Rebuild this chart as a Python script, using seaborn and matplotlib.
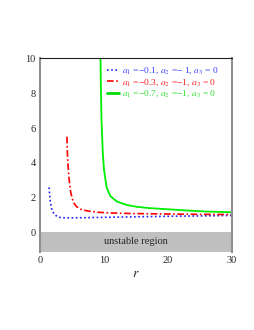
import numpy as np
import pandas as pd
import matplotlib
matplotlib.use("Agg")
import matplotlib.pyplot as plt
import seaborn as sns

# curves
r_blue = [1.4, 1.5, 1.6, 1.8, 2.0, 2.3, 2.7, 3.2, 4, 5, 7, 10, 15, 20, 25, 30]
y_blue = [2.6, 2.2, 1.8, 1.4, 1.2, 1.05, 0.93, 0.88, 0.86, 0.86, 0.87, 0.89, 0.92, 0.95, 0.97, 1.0]

r_red = [4.2, 4.3, 4.5, 4.8, 5.2, 5.7, 6.5, 7.5, 9, 11, 14, 18, 22, 26, 30]
y_red = [5.5, 4.3, 3.2, 2.3, 1.75, 1.5, 1.33, 1.25, 1.18, 1.14, 1.11, 1.09, 1.07, 1.06, 1.05]

r_green = [9.45, 9.5, 9.6, 9.8, 10.0, 10.4, 11, 12, 13.5, 15, 17, 20, 23, 26, 30]
y_green = [10.0, 8.5, 6.5, 4.6, 3.6, 2.6, 2.1, 1.8, 1.6, 1.5, 1.42, 1.35, 1.28, 1.22, 1.18]

labels = [r"$a_1$ =−0.1, $a_2$ =− 1, $a_3$ = 0",
          r"$a_1$ =−0.3, $a_2$ =−1, $a_3$ = 0",
          r"$a_1$ =−0.7, $a_2$ =−1, $a_3$ = 0"]

sns.set_style("white")
plt.rcParams['font.family'] = ['Liberation Serif', 'DejaVu Serif']
plt.rcParams['mathtext.fontset'] = 'stix'

fig = plt.figure(figsize=(2.55, 3.3), dpi=100)
ax = fig.add_axes([0.157, 0.236, 0.753, 0.588])

ax.axhspan(-1.1, 0.05, color="#c0c0c0", lw=0)
ax.text(15, -0.5, "unstable region", ha="center", va="center", fontsize=7.5)

sns.lineplot(x=r_blue, y=y_blue, ax=ax, color="#2020ff", lw=1.2, sort=False,
             linestyle=(0, (1, 1.5)), label=labels[0])
sns.lineplot(x=r_red, y=y_red, ax=ax, color="#ff0000", lw=1.2, sort=False,
             linestyle=(0, (4, 1.5, 1, 1.5)), label=labels[1])
sns.lineplot(x=r_green, y=y_green, ax=ax, color="#00ee00", lw=1.3, sort=False,
             label=labels[2])

ax.set_xlim(0, 30)
ax.set_ylim(-1.1, 10)
ax.set_xticks([0, 10, 20, 30])
ax.set_yticks([0, 2, 4, 6, 8, 10])
ax.tick_params(labelsize=7.5, length=0, pad=3)
ax.set_xlabel(r"$r$", fontsize=10, labelpad=1)

for s in ["left", "right"]:
    ax.spines[s].set_color("#909090")
    ax.spines[s].set_linewidth(1.5)
ax.spines["top"].set_color("#202020")
ax.spines["top"].set_linewidth(0.8)
ax.spines["bottom"].set_visible(False)

leg = ax.legend(loc="upper right", bbox_to_anchor=(0.96, 0.99), frameon=False,
                fontsize=6.8, handlelength=1.3, handletextpad=0.3,
                labelspacing=0.12, borderaxespad=0.2)
cols = ["#4040ff", "#ff2020", "#30dd30"]
for t, c in zip(leg.get_texts(), cols):
    t.set_color(c)
lines = leg.get_lines()
lines[2].set_linewidth(2.0)
lines[2].set_color("#00dd00")

fig.savefig("out.png", dpi=100)
